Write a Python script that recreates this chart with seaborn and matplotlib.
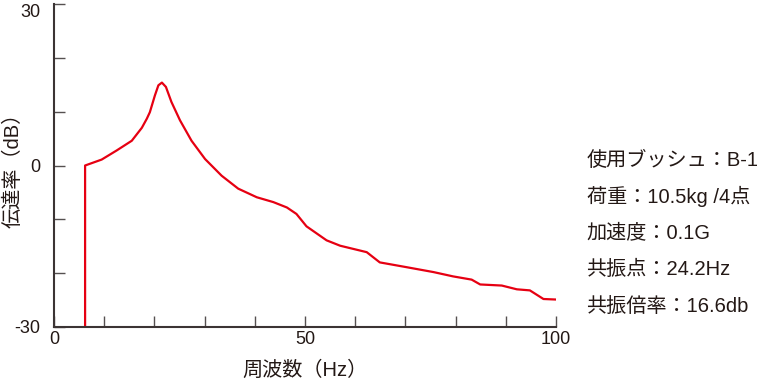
import numpy as np
import matplotlib
matplotlib.use("Agg")
import matplotlib.pyplot as plt
import seaborn as sns

# frequency response
freq_hz = [6.2, 6.2, 9.5, 12.5, 15.5, 17.5, 18.5, 19.1, 20.1, 20.8, 21.5, 22.3,
           23.4, 25.1, 27.4, 30.1, 33.4, 36.7, 40.4, 43.7, 46.4, 48.3, 50.3,
           54.3, 57.0, 62.3, 64.9, 70.3, 75.6, 79.5, 83.2, 84.9, 89.2, 92.2,
           94.8, 97.5, 100.0]
gain_db = [-30, 0.0, 1.1, 2.8, 4.6, 7.0, 8.7, 9.9, 13.0, 14.9, 15.4, 14.6,
           11.8, 8.4, 4.6, 1.2, -1.9, -4.3, -5.9, -6.8, -7.8, -9.0, -11.3,
           -13.9, -14.9, -16.1, -18.0, -18.9, -19.8, -20.6, -21.2, -22.1, -22.3,
           -23.0, -23.2, -24.8, -24.9]

x_ticks = [0, 10, 20, 30, 40, 50, 60, 70, 80, 90, 100]
x_labels = ["0", "", "", "", "", "50", "", "", "", "", "100"]
y_ticks = [-30, -20, -10, 0, 10, 20, 30]
y_labels = ["-30", "", "", "0", "", "", "30"]

info_lines = ["使用ブッシュ：B-1", "荷重：10.5kg /4点", "加速度：0.1G",
              "共振点：24.2Hz", "共振倍率：16.6db"]

sns.set_style("ticks")
plt.rcParams['font.family'] = ['Liberation Sans', 'Noto Sans CJK JP']

fig = plt.figure(figsize=(7.81, 3.82), dpi=100)
ax = fig.add_axes([0.0691, 0.144, 0.6428, 0.8455])

sns.lineplot(x=freq_hz, y=gain_db, estimator=None, sort=False,
             color="#e60012", linewidth=1.6, ax=ax)

ax.set_xlim(0, 100)
ax.set_ylim(-30, 30)
ax.set_xticks(x_ticks)
ax.set_xticklabels(x_labels)
ax.set_yticks(y_ticks)
ax.set_yticklabels(y_labels)
spine_col = "#3b3434"
for s in ["top", "right"]:
    ax.spines[s].set_visible(False)
for s in ["left", "bottom"]:
    ax.spines[s].set_color(spine_col)
    ax.spines[s].set_linewidth(1.5)
ax.tick_params(axis="both", direction="in", length=8, width=1,
               color="#555050", labelsize=13, labelcolor="#231815")
ax.tick_params(axis="x", pad=3)
ax.tick_params(axis="y", pad=10)
# top label sits below the axis end in the original
ax.get_yticklabels()[-1].set_va("top")

ax.set_xlabel("周波数（Hz）", fontsize=14.5, color="#231815")
ax.set_ylabel("伝達率（dB）", fontsize=14.5, color="#231815")
ax.xaxis.set_label_coords(0.5, -0.105)
ax.yaxis.set_label_coords(-0.062, 0.5)

for i, line in enumerate(info_lines):
    fig.text(0.751, 1 - (160 + i * 36.5) / 382, line, fontsize=14.5,
             color="#231815", va="center", ha="left")

fig.savefig("out.png", dpi=100)
